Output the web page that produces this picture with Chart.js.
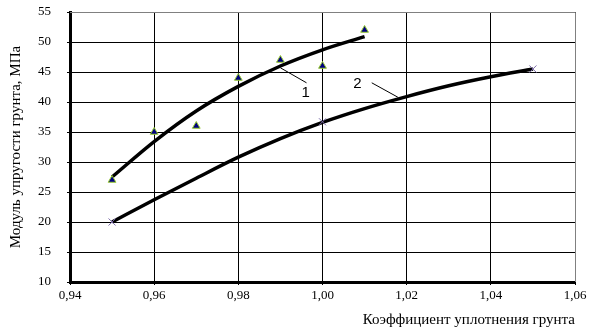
<!DOCTYPE html>
<html>
<head>
<meta charset="utf-8">
<script src="https://cdn.jsdelivr.net/npm/chart.js@4/dist/chart.umd.min.js"></script>
<style>
  html, body { margin: 0; padding: 0; background: #fff; }
  #wrap { width: 597px; height: 335px; }
</style>
</head>
<body>
<div id="wrap"><canvas id="chart"></canvas></div>
<script>
// measured points
const pointsX1 = [0.95, 0.96, 0.97, 0.98, 0.99, 1.00, 1.01];
const pointsY1 = [27, 35, 36, 44, 47, 46, 52];
const pointsX2 = [0.95, 1.00, 1.05];
const pointsY2 = [20, 36.7, 45.5];

// trend curves
const curveX1 = [0.95, 0.96, 0.97, 0.98, 0.99, 1.00, 1.01];
const curveY1 = [27.5, 33.4, 38.5, 42.6, 46.0, 48.7, 50.9];
const curveX2 = [0.95, 0.96, 0.97, 0.98, 0.99, 1.00, 1.01, 1.02, 1.03, 1.04, 1.05];
const curveY2 = [20, 23.7, 27.3, 30.8, 33.9, 36.6, 38.9, 40.9, 42.7, 44.2, 45.5];

// curve labels and leader lines (data coords)
const curveLabels = ['1', '2'];
const labelPos = [[0.9960, 41.5], [1.0083, 43.0]];
const leaderFrom = [[0.9900, 45.7], [1.0117, 43.2]];
const leaderTo = [[0.9962, 43.2], [1.0179, 40.8]];

const xTitle = 'Коэффициент уплотнения грунта';
const yTitle = 'Модуль упругости грунта, МПа';

const toXY = (xs, ys) => xs.map((x, i) => ({ x: x, y: ys[i] }));

const frameAndLabels = {
  id: 'frameAndLabels',
  beforeDatasetsDraw(chart) {
    const { ctx, chartArea: a } = chart;
    ctx.save();
    ctx.strokeStyle = '#808080';
    ctx.lineWidth = 1;
    ctx.beginPath();
    ctx.moveTo(a.left, a.top + 0.5);
    ctx.lineTo(a.right + 0.5, a.top + 0.5);
    ctx.lineTo(a.right + 0.5, a.bottom);
    ctx.stroke();
    ctx.restore();
  },
  afterDatasetsDraw(chart) {
    const { ctx, scales: { x, y } } = chart;
    ctx.save();
    ctx.strokeStyle = '#000';
    ctx.lineWidth = 1;
    ctx.fillStyle = '#000';
    ctx.font = '15px "Liberation Sans", Arial, sans-serif';
    ctx.textAlign = 'center';
    ctx.textBaseline = 'middle';
    curveLabels.forEach((t, i) => {
      ctx.beginPath();
      ctx.moveTo(x.getPixelForValue(leaderFrom[i][0]), y.getPixelForValue(leaderFrom[i][1]));
      ctx.lineTo(x.getPixelForValue(leaderTo[i][0]), y.getPixelForValue(leaderTo[i][1]));
      ctx.stroke();
      ctx.fillText(t, x.getPixelForValue(labelPos[i][0]), y.getPixelForValue(labelPos[i][1]));
    });
    ctx.restore();
  }
};

const serif = '"Liberation Serif", "Times New Roman", serif';

new Chart(document.getElementById('chart'), {
  type: 'scatter',
  data: {
    datasets: [
      {
        data: toXY(curveX1, curveY1),
        showLine: true,
        borderColor: '#000',
        borderWidth: 3.5,
        pointRadius: 0,
        cubicInterpolationMode: 'monotone',
        order: 3
      },
      {
        data: toXY(curveX2, curveY2),
        showLine: true,
        borderColor: '#000',
        borderWidth: 3.5,
        pointRadius: 0,
        cubicInterpolationMode: 'monotone',
        order: 3
      },
      {
        data: toXY(pointsX1, pointsY1),
        pointStyle: 'triangle',
        pointRadius: 4.5,
        backgroundColor: '#000080',
        borderColor: '#9acd32',
        borderWidth: 1,
        order: 1
      },
      {
        data: toXY(pointsX2, pointsY2),
        pointStyle: 'cross',
        rotation: 45,
        pointRadius: 5,
        borderColor: '#7a6aa8',
        borderWidth: 1,
        order: 1
      }
    ]
  },
  options: {
    responsive: true,
    maintainAspectRatio: false,
    animation: false,
    layout: { padding: { top: 12, right: 22, left: 7, bottom: 6 } },
    plugins: {
      legend: { display: false },
      tooltip: { enabled: false }
    },
    scales: {
      x: {
        type: 'linear',
        min: 0.94,
        max: 1.06,
        ticks: {
          stepSize: 0.02,
          color: '#000',
          padding: 3,
          font: { family: serif, size: 13 },
          maxRotation: 0,
          callback: v => v.toFixed(2).replace('.', ',')
        },
        grid: { color: '#000', lineWidth: 1, tickLength: 3, drawOnChartArea: true },
        border: { color: '#000', width: 3 },
        title: {
          display: true,
          text: xTitle,
          align: 'end',
          color: '#000',
          font: { family: serif, size: 15 },
          padding: { top: 4, bottom: 0 }
        },
        afterFit: s => { s.height = 47; s.paddingLeft = 0; s.paddingRight = 0; }
      },
      y: {
        min: 10,
        max: 55,
        ticks: {
          stepSize: 5,
          color: '#000',
          padding: 16,
          font: { family: serif, size: 13 }
        },
        grid: { color: '#000', lineWidth: 1, tickLength: 3 },
        border: { color: '#000', width: 3 },
        title: {
          display: true,
          text: yTitle,
          color: '#000',
          font: { family: serif, size: 15 },
          padding: { top: 0, bottom: 0 }
        },
        afterFit: s => { s.width = 63; s.paddingTop = 0; s.paddingBottom = 0; }
      }
    }
  },
  plugins: [frameAndLabels]
});
</script>
</body>
</html>
